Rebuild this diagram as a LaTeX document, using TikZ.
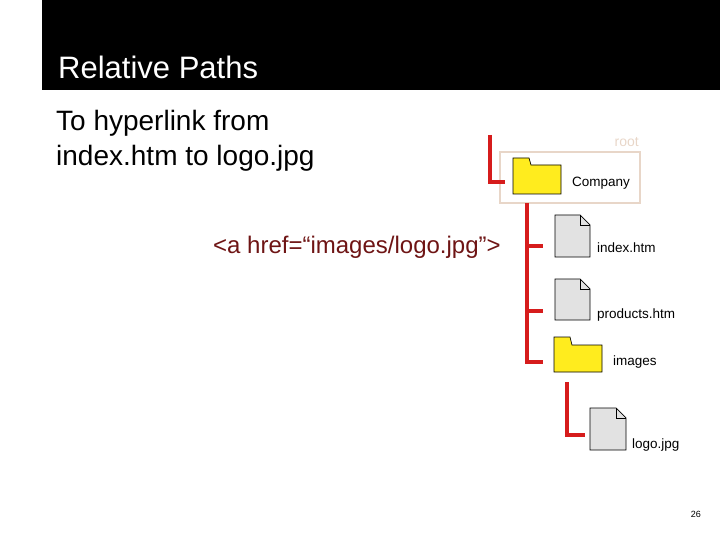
\documentclass[tikz,border=0pt]{standalone}
\usepackage{fontspec}
\setmainfont{Liberation Sans}
\begin{document}
\begin{tikzpicture}[x=1pt,y=-1pt,
  tree/.style={draw=treered,line width=3.4pt},
  folder/.style={draw=black,fill=folderyellow,line width=0.7pt},
  doc/.style={draw=black,fill=docgray,line width=0.7pt},
  lbl/.style={anchor=base west,font=\fontsize{13.5}{15}\selectfont,inner sep=0pt}]
\definecolor{treered}{RGB}{214,28,28}
\definecolor{folderyellow}{RGB}{255,236,30}
\definecolor{docgray}{RGB}{226,226,226}
\definecolor{rootbeige}{RGB}{232,214,200}
\definecolor{codered}{RGB}{110,20,20}
\useasboundingbox (0,0) rectangle (720,540);
\fill[black] (42,0) rectangle (720,90);
\node[anchor=base west,text=white,font=\fontsize{31}{36}\selectfont,inner sep=0pt] (title) at (58,79) {Relative Paths};
\node[anchor=base west,font=\fontsize{28}{34}\selectfont,inner sep=0pt] (body) at (56,131) {To hyperlink from};
\node[anchor=base west,font=\fontsize{28}{34}\selectfont,inner sep=0pt] (body2) at (56,166) {index.htm to logo.jpg};
\node[anchor=base west,text=codered,font=\fontsize{24}{28}\selectfont,inner sep=0pt] (code) at (213,254) {<a href=“images/logo.jpg”>};
% root box
\node[draw=rootbeige,line width=1.4pt,minimum width=140pt,minimum height=51pt,inner sep=0pt] (rootbox) at (570,177.5) {};
\node[anchor=base east,text=rootbeige,font=\fontsize{14}{16}\selectfont,inner sep=0pt] (rootlbl) at (639,147) {root};
% Company folder
\filldraw[folder] (513,194) -- (513,158) -- (529,158) -- (531,165) -- (561,165) -- (561,194) -- cycle;
\node[lbl] (company) at (572,187) {Company};
% index doc
\filldraw[doc] (555,215) -- (580,215) -- (590,225) -- (590,257) -- (555,257) -- cycle;
\draw[line width=0.7pt] (580,215) -- (580,225) -- (590,225);
\node[lbl] (index) at (597,252) {index.htm};
% products doc
\filldraw[doc] (555,279) -- (580,279) -- (590,289) -- (590,320) -- (555,320) -- cycle;
\draw[line width=0.7pt] (580,279) -- (580,289) -- (590,289);
\node[lbl] (products) at (597,318) {products.htm};
% images folder
\filldraw[folder] (554,372) -- (554,337) -- (570,337) -- (572,345) -- (602,345) -- (602,372) -- cycle;
\node[lbl] (images) at (613,365) {images};
% logo doc
\filldraw[doc] (590,408) -- (616,408) -- (626,418) -- (626,450) -- (590,450) -- cycle;
\draw[line width=0.7pt] (616,408) -- (616,418) -- (626,418);
\node[lbl] (logo) at (632,448) {logo.jpg};
% tree lines
\draw[tree] (490,135) -- (490,182) -- (505,182);
\draw[tree] (527,203) -- (527,362) -- (543,362);
\draw[tree] (527,246) -- (543,246);
\draw[tree] (527,311) -- (543,311);
\draw[tree] (567,382) -- (567,435) -- (585,435);
\node[anchor=base east,font=\fontsize{9}{10}\selectfont,inner sep=0pt] (pg) at (701,517) {26};
\end{tikzpicture}
\end{document}
